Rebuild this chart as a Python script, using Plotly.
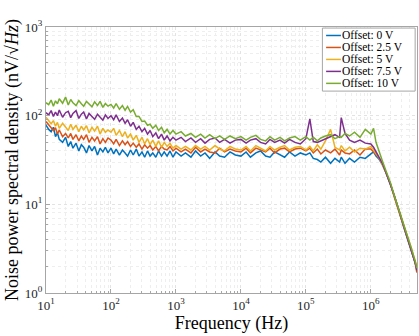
import plotly.graph_objects as go

# Frequency points (Hz), shared by all curves
freq = [10, 11, 12, 13, 14, 15, 16, 18, 20, 22, 24, 26, 29, 32, 35, 38, 42, 46, 51, 56, 62, 68, 75, 82, 90,
        100, 110, 120, 135, 150, 165, 180, 200, 220, 245, 270, 300, 330, 365, 400, 440, 490, 540, 600, 660, 730, 810, 900,
        1e3, 1.2e3, 1.4e3, 1.7e3, 2e3, 2.4e3, 2.8e3, 3.3e3, 4e3, 4.7e3, 5.6e3, 6.8e3, 8.2e3,
        1e4, 1.2e4, 1.4e4, 1.7e4, 2e4, 2.4e4, 2.8e4, 3.3e4, 4e4, 4.7e4, 5.6e4, 6.8e4, 8.2e4,
        1e5, 1.15e5, 1.3e5, 1.5e5, 1.7e5, 2e5, 2.4e5, 2.8e5, 3.3e5, 3.5e5, 4e5, 4.7e5, 5.6e5, 6.8e5, 8.2e5,
        1e6, 1.1e6, 1.2e6, 1.35e6, 1.5e6, 1.7e6, 2e6, 2.3e6, 2.7e6, 3.1e6, 3.6e6, 4.2e6, 4.8e6, 5.1e6]

# Noise PSD in nV/sqrt(Hz)
psd_0v = [78, 70, 66, 74, 58, 64, 54, 50, 57, 45, 51, 43, 49, 40, 47, 44, 38, 46, 40, 45, 36, 43, 39, 44, 38,
          43, 37, 42, 36, 41, 38, 35, 41, 36, 42, 35, 39, 34, 40, 35, 38, 34, 40, 35, 39, 35, 40, 34,
          39, 35, 38, 34, 40, 35, 38, 33, 39, 35, 34, 39, 36,
          35, 39, 34, 38, 40, 35, 34, 39, 36, 34, 39, 35, 38,
          36, 38, 33, 32, 30, 34, 29, 33, 30, 34, 29, 33, 30, 34, 33,
          37, 39, 35, 32, 28, 23, 17, 12.5, 8.5, 6, 4.3, 3, 2.2, 1.9]
psd_2v5 = [86, 79, 74, 68, 73, 62, 69, 58, 63, 56, 63, 54, 61, 52, 59, 54, 61, 50, 57, 52, 58, 48, 55, 50, 56,
           53, 48, 54, 46, 52, 47, 51, 45, 49, 44, 48, 42, 47, 43, 46, 41, 45, 40, 45, 42, 41, 45, 40,
           43, 39, 42, 38, 44, 39, 42, 39, 38, 43, 39, 42, 40,
           39, 43, 38, 43, 41, 39, 43, 38, 42, 43, 39, 42, 43,
           40, 43, 38, 42, 37, 41, 38, 42, 36, 41, 38, 37, 41, 36, 42,
           42, 39, 36, 33, 29, 23, 17, 12, 8.2, 6.1, 4.4, 3.0, 2.2, 1.7]
psd_5v = [96, 87, 81, 88, 76, 84, 72, 82, 75, 68, 80, 70, 78, 66, 76, 69, 77, 64, 74, 67, 76, 62, 72, 65, 69,
          65, 72, 60, 68, 58, 66, 56, 62, 53, 60, 50, 57, 48, 55, 47, 53, 45, 52, 44, 50, 45, 49, 43,
          46, 42, 45, 41, 46, 42, 45, 41, 46, 42, 40, 45, 42,
          41, 45, 40, 46, 43, 40, 45, 41, 44, 46, 41, 44, 45,
          41, 45, 40, 47, 42, 52, 70, 44, 41, 46, 40, 44, 39, 43, 42,
          45, 41, 38, 33, 28, 23, 17, 12.5, 8.8, 6.3, 4.5, 3.2, 2.3, 2.0]
psd_7v5 = [108, 102, 114, 98, 110, 100, 116, 96, 108, 112, 95, 106, 114, 93, 104, 110, 92, 106, 98, 91, 104, 95, 89, 102, 93,
           100, 90, 102, 86, 94, 82, 90, 76, 84, 70, 76, 66, 72, 62, 68, 58, 64, 55, 62, 53, 59, 52, 57,
           53, 57, 51, 56, 50, 55, 49, 54, 56, 50, 54, 49, 53,
           54, 49, 53, 55, 50, 48, 54, 50, 53, 49, 54, 50, 48,
           55, 92, 51, 50, 52, 54, 57, 61, 57, 95, 63, 53, 50, 53, 49,
           48, 44, 39, 34, 29, 23, 17, 12.5, 8.6, 6.2, 4.4, 3.1, 2.2, 1.8]
psd_10v = [140, 133, 150, 128, 147, 136, 155, 138, 162, 132, 152, 140, 130, 148, 136, 128, 145, 134, 126, 143, 130, 145, 124, 137, 128,
           134, 122, 137, 118, 130, 115, 127, 110, 117, 98, 98, 86, 87, 78, 80, 72, 78, 68, 74, 64, 70, 62, 68,
           62, 66, 59, 63, 57, 62, 56, 61, 55, 59, 54, 59, 55,
           58, 53, 57, 60, 54, 52, 58, 53, 57, 52, 56, 58, 53,
           58, 53, 57, 52, 56, 59, 61, 55, 58, 57, 63, 59, 65, 57, 70,
           62, 72, 50, 38, 31, 24, 17.5, 12.5, 8.8, 6.3, 4.5, 3.2, 2.3, 1.9]

labels = ["Offset: 0 V", "Offset: 2.5 V", "Offset: 5 V", "Offset: 7.5 V", "Offset: 10 V"]
colors = ["#0072BD", "#D95319", "#EDB120", "#7E2F8E", "#77AC30"]

x_ticks = [10, 100, 1e3, 1e4, 1e5, 1e6]
x_ticktext = ["10<sup>1</sup>", "10<sup>2</sup>", "10<sup>3</sup>", "10<sup>4</sup>", "10<sup>5</sup>", "10<sup>6</sup>"]
y_ticks = [1, 10, 100, 1000]
y_ticktext = ["10<sup>0</sup>", "10<sup>1</sup>", "10<sup>2</sup>", "10<sup>3</sup>"]

fig = go.Figure()
for name, ys, c in zip(labels, [psd_0v, psd_2v5, psd_5v, psd_7v5, psd_10v], colors):
    fig.add_trace(go.Scatter(x=freq, y=ys, name=name, mode="lines",
                             line=dict(color=c, width=1.5), showlegend=False))

# compact MATLAB-style legend box (plotly's native legend rows are too tall)
lx0, lx1, ly1, row_h = 0.745, 0.995, 0.996, 0.045
fig.add_shape(type="rect", xref="paper", yref="paper", x0=lx0, x1=lx1,
              y0=ly1 - row_h * 5 - 0.012, y1=ly1,
              line=dict(color="#a6a6a6", width=1), fillcolor="white", layer="above")
for i, (name, c) in enumerate(zip(labels, colors)):
    yy = ly1 - row_h * (i + 0.62)
    fig.add_shape(type="line", xref="paper", yref="paper", x0=lx0 + 0.01, x1=lx0 + 0.05,
                  y0=yy, y1=yy, line=dict(color=c, width=1.5), layer="above")
    fig.add_annotation(x=lx0 + 0.05, y=yy, xref="paper", yref="paper", text=name,
                       showarrow=False, xanchor="left", yanchor="middle", borderpad=0,
                       font=dict(size=11.5, color="#000"))

axis_style = dict(
    type="log", showline=True, linecolor="#a6a6a6", linewidth=1, mirror=True,
    ticks="inside", ticklen=4, tickcolor="#a6a6a6",
    showgrid=True, gridcolor="#e3e3e3", griddash="dot", gridwidth=1,
    minor=dict(dtick="D1", ticks="inside", ticklen=2, tickcolor="#a6a6a6",
               showgrid=True, gridcolor="#eeeeee", griddash="dot"),
    zeroline=False, tickfont=dict(size=13, color="#262626"),
)

fig.update_xaxes(**axis_style, range=[1, 6.71], tickvals=x_ticks, ticktext=x_ticktext,
                 title=dict(text="Frequency (Hz)", font=dict(size=18, color="#000"), standoff=3))
fig.update_yaxes(**axis_style, range=[0, 3], tickvals=y_ticks, ticktext=y_ticktext,
                 title=dict(text="Noise power spectral density (nV/√<i>Hz</i>)",
                            font=dict(size=18, color="#000"), standoff=1))

fig.update_layout(
    width=419, height=336, template="plotly_white",
    font=dict(family="Liberation Serif", color="#000"),
    margin=dict(l=46, r=2, t=27, b=43),
    plot_bgcolor="white", paper_bgcolor="white",
)

fig.write_html("out.html", config={"displayModeBar": False},
               post_script="document.body.style.margin='0';")
